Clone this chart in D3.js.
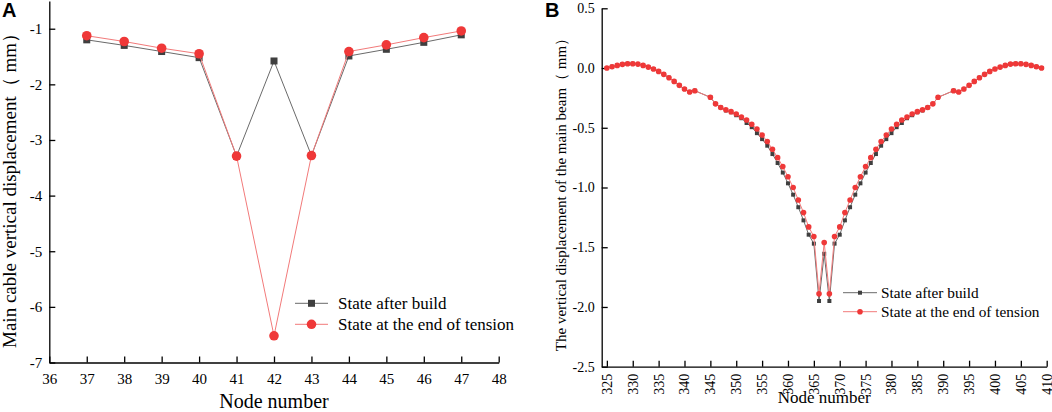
<!DOCTYPE html>
<html lang="en">
<head>
<meta charset="UTF-8">
<title>Main cable and main beam vertical displacement</title>
<style>
  html, body { margin: 0; padding: 0; background: #fff; }
  svg { display: block; font-family: "Times New Roman", "Liberation Serif", serif; }
  .axis path, .axis line { stroke: #000; stroke-width: 1.3; }
  .axis text { fill: #000; font-family: "Times New Roman", "Liberation Serif", serif; }
</style>
</head>
<body>
<svg id="chart" width="1052" height="412"></svg>
<script src="https://d3js.org/d3.v7.min.js"></script>
<script>
// panel A: main cable
const nodesA = [37, 38, 39, 40, 41, 42, 43, 44, 45, 46, 47];
const buildA = [-1.20, -1.30, -1.41, -1.52, -3.29, -1.58, -3.28, -1.49, -1.37, -1.245, -1.11];
const tensionA = [-1.126, -1.23, -1.35, -1.45, -3.29, -6.52, -3.28, -1.41, -1.29, -1.16, -1.04];
const xTicksA = [36, 37, 38, 39, 40, 41, 42, 43, 44, 45, 46, 47, 48];
const yTicksA = [-7, -6, -5, -4, -3, -2, -1];

// panel B: main beam
const nodesB = [325, 326, 327, 328, 329, 330, 331, 332, 333, 334, 335, 336, 337, 338, 339, 340, 341, 342,
  345, 346, 347, 348, 349, 350, 351, 352, 353, 354, 355, 356, 357, 358, 359, 360, 361, 362, 363, 364, 365,
  366, 367, 368, 369, 370, 371, 372, 373, 374, 375, 376, 377, 378, 379, 380, 381, 382, 383, 384, 385, 386,
  387, 388, 389, 392, 393, 394, 395, 396, 397, 398, 399, 400, 401, 402, 403, 404, 405, 406, 407, 408, 409];
const buildB = [0.000, 0.011, 0.022, 0.031, 0.036, 0.036, 0.033, 0.022, 0.008, -0.008, -0.028, -0.053, -0.081, -0.112, -0.145, -0.176, -0.200, -0.190,
  -0.245, -0.300, -0.330, -0.355, -0.370, -0.395, -0.420, -0.460, -0.495, -0.545, -0.595, -0.650, -0.720, -0.795, -0.875, -0.965, -1.060, -1.165, -1.275, -1.395, -1.470,
  -1.950, -1.555, -1.950, -1.470, -1.395, -1.275, -1.165, -1.060, -0.965, -0.875, -0.795, -0.720, -0.650, -0.595, -0.545, -0.495, -0.460, -0.420, -0.395, -0.370, -0.355,
  -0.330, -0.300, -0.245, -0.190, -0.200, -0.176, -0.145, -0.112, -0.081, -0.053, -0.028, -0.008, 0.008, 0.022, 0.033, 0.036, 0.036, 0.031, 0.022, 0.011, 0.000];
const tensionB = [0.000, 0.011, 0.022, 0.031, 0.036, 0.036, 0.033, 0.022, 0.008, -0.008, -0.028, -0.053, -0.081, -0.112, -0.145, -0.176, -0.200, -0.190,
  -0.245, -0.300, -0.330, -0.350, -0.365, -0.385, -0.410, -0.435, -0.470, -0.510, -0.560, -0.615, -0.680, -0.750, -0.825, -0.910, -1.000, -1.105, -1.210, -1.330, -1.410,
  -1.890, -1.460, -1.890, -1.410, -1.330, -1.210, -1.105, -1.000, -0.910, -0.825, -0.750, -0.680, -0.615, -0.560, -0.510, -0.470, -0.435, -0.410, -0.385, -0.365, -0.350,
  -0.330, -0.300, -0.245, -0.190, -0.200, -0.176, -0.145, -0.112, -0.081, -0.053, -0.028, -0.008, 0.008, 0.022, 0.033, 0.036, 0.036, 0.031, 0.022, 0.011, 0.000];
const xTicksB = d3.range(325, 411, 5);
const yTicksB = [-2.5, -2.0, -1.5, -1.0, -0.5, 0.0, 0.5];

const seriesNames = ["State after build", "State at the end of tension"];
const colBuild = "#3f3f3f", colBuildLine = "#6a6a6a";
const colTension = "#ef3838", colTensionLine = "#f27a7a";
const serif = "'Times New Roman', 'Liberation Serif', serif";

const svg = d3.select("#chart");

function drawPanel(o) {
  const x = d3.scaleLinear().domain(o.xDomain).range(o.xRange);
  const y = d3.scaleLinear().domain(o.yDomain).range(o.yRange);

  // axes, ticks point inward
  const gx = svg.append("g").attr("class", "axis")
      .attr("transform", `translate(0,${o.yRange[0]})`)
      .call(d3.axisBottom(x).tickValues(o.xTicks).tickSizeInner(-6).tickSizeOuter(0)
        .tickPadding(o.rotateX ? 14 : 11).tickFormat(d => String(d)));
  gx.selectAll("text").style("font-family", serif).style("font-size", o.tickFont + "px");
  if (o.rotateX) {
    gx.selectAll("text")
      .attr("transform", "rotate(-90)")
      .attr("text-anchor", "end")
      .attr("dy", "0.32em")
      .attr("x", -7).attr("y", 0);
  }

  const gy = svg.append("g").attr("class", "axis")
      .attr("transform", `translate(${o.xRange[0]},0)`)
      .call(d3.axisLeft(y).tickValues(o.yTicks).tickSizeInner(-6).tickSizeOuter(0)
        .tickPadding(7).tickFormat(o.yFormat));
  gy.selectAll("text").style("font-family", serif).style("font-size", o.tickFont + "px");

  // axis titles
  svg.append("text")
    .attr("x", (o.xRange[0] + o.xRange[1]) / 2).attr("y", o.xTitleY)
    .attr("text-anchor", "middle").style("font-size", o.titleFont + "px")
    .text("Node number");
  svg.append("text")
    .attr("transform", `translate(${o.yTitleX},${o.yTitleMid}) rotate(-90)`)
    .attr("text-anchor", "middle").style("font-size", o.yTitleFont + "px")
    .text(o.yTitle);

  // series
  const line = d3.line().x(d => x(d[0])).y(d => y(d[1]));
  const build = o.nodes.map((n, i) => [n, o.build[i]]);
  const tension = o.nodes.map((n, i) => [n, o.tension[i]]);

  svg.append("path").datum(build).attr("d", line)
    .attr("fill", "none").attr("stroke", colBuildLine).attr("stroke-width", 1);
  svg.append("g").selectAll("rect").data(build).join("rect")
    .attr("x", d => x(d[0]) - o.sq / 2).attr("y", d => y(d[1]) - o.sq / 2)
    .attr("width", o.sq).attr("height", o.sq).attr("fill", colBuild);

  svg.append("path").datum(tension).attr("d", line)
    .attr("fill", "none").attr("stroke", colTensionLine).attr("stroke-width", 1);
  svg.append("g").selectAll("circle").data(tension).join("circle")
    .attr("cx", d => x(d[0])).attr("cy", d => y(d[1]))
    .attr("r", o.rad).attr("fill", colTension);

  // legend
  const lg = svg.append("g");
  seriesNames.forEach((name, i) => {
    const ly = o.legend.y + i * o.legend.dy;
    lg.append("line").attr("x1", o.legend.x).attr("x2", o.legend.x + o.legend.w)
      .attr("y1", ly).attr("y2", ly)
      .attr("stroke", i === 0 ? colBuildLine : colTensionLine).attr("stroke-width", 1);
    const mx = o.legend.x + o.legend.w / 2;
    if (i === 0) {
      lg.append("rect").attr("x", mx - o.sq / 2).attr("y", ly - o.sq / 2)
        .attr("width", o.sq).attr("height", o.sq).attr("fill", colBuild);
    } else {
      lg.append("circle").attr("cx", mx).attr("cy", ly).attr("r", o.rad).attr("fill", colTension);
    }
    lg.append("text").attr("x", o.legend.x + o.legend.w + o.legend.gap).attr("y", ly)
      .attr("dy", "0.33em").style("font-size", o.legend.font + "px").text(name);
  });

  // panel letter
  svg.append("text").attr("x", o.letterX).attr("y", 17)
    .style("font-family", "Arial, 'Liberation Sans', sans-serif")
    .style("font-weight", "bold").style("font-size", "20px").text(o.letter);
}

drawPanel({
  letter: "A", letterX: 2,
  nodes: nodesA, build: buildA, tension: tensionA,
  xDomain: [36, 48], xRange: [49.3, 498.7],
  yDomain: [-7, -0.5], yRange: [362.5, 0.9],
  xTicks: xTicksA, yTicks: yTicksA, yFormat: d => String(d),
  tickFont: 15, titleFont: 20, yTitleFont: 19,
  xTitleY: 408, yTitleX: 16, yTitleMid: 186,
  yTitle: "Main cable vertical displacement（ mm）",
  sq: 7, rad: 4.8,
  legend: { x: 295, y: 303.3, dy: 21, w: 33, gap: 10, font: 17 }
});

drawPanel({
  letter: "B", letterX: 545,
  nodes: nodesB, build: buildB, tension: tensionB,
  xDomain: [324, 410], xRange: [601.7, 1046.7],
  yDomain: [-2.5, 0.5], yRange: [366.7, 8.3],
  xTicks: xTicksB, yTicks: yTicksB, yFormat: d => d.toFixed(1), rotateX: true,
  tickFont: 14, titleFont: 17, yTitleFont: 15,
  xTitleY: 403, yTitleX: 566, yTitleMid: 191,
  yTitle: "The vertical displacement of the main beam（ mm）",
  sq: 4, rad: 2.8,
  legend: { x: 843, y: 292.7, dy: 19, w: 34, gap: 4, font: 15.3 }
});
</script>
</body>
</html>
